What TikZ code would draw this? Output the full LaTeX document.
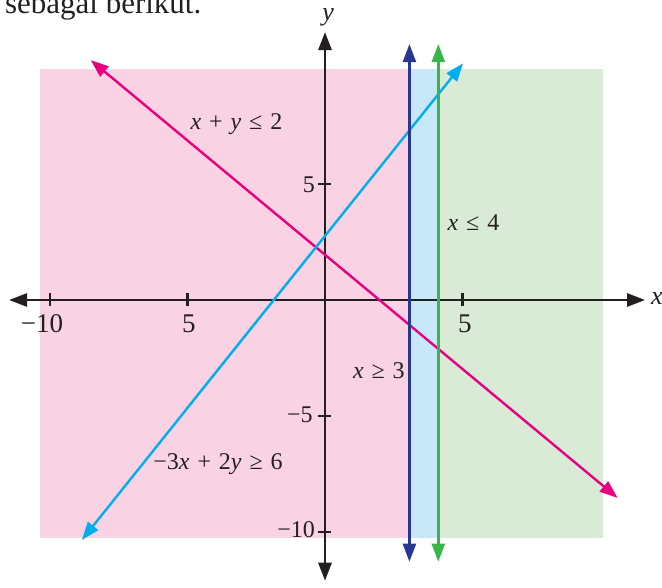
\documentclass[tikz,border=0pt]{standalone}
\usepackage{fontspec}
\setmainfont{Liberation Serif}
\usetikzlibrary{arrows.meta}
\definecolor{regpink}{RGB}{249,211,228}
\definecolor{regblue}{RGB}{199,232,248}
\definecolor{reggreen}{RGB}{217,234,214}
\definecolor{linemag}{RGB}{232,0,128}
\definecolor{linecyan}{RGB}{0,174,239}
\definecolor{linenavy}{RGB}{40,56,146}
\definecolor{linegreen}{RGB}{57,181,74}
\definecolor{axisblack}{RGB}{35,31,32}
\tikzstyle{axis} = [line width=2.8pt, axisblack, {Triangle[length=18pt,width=13pt]}-{Triangle[length=18pt,width=13pt]}]
\tikzstyle{bound} = [line width=2.4pt, {Triangle[length=18pt,width=13pt]}-{Triangle[length=18pt,width=13pt]}]
\tikzstyle{tick} = [line width=2.4pt, axisblack]
\tikzstyle{xlab} = [font=\fontsize{27}{30}\selectfont, inner sep=0pt, text=axisblack]
\tikzstyle{ylab} = [font=\fontsize{24}{28}\selectfont, inner sep=0pt, anchor=east, text=axisblack]
\tikzstyle{ineq} = [font=\fontsize{24}{28}\selectfont, inner sep=0pt, text=axisblack]
\newcommand{\ineqgap}{\hspace{0.33em}}

\begin{document}
\begin{tikzpicture}[x=27.5pt, y=23.2pt]
\useasboundingbox (-11.818,-12.371) rectangle (12.2545,12.931);
\clip (-11.818,-12.371) rectangle (12.2545,12.931);

% regions
\fill[regpink] (-10.36,-10.26) rectangle (3.07,9.96);
\fill[regblue] (3.07,-10.26) rectangle (4.12,9.96);
\fill[reggreen] (4.12,-10.26) rectangle (10.11,9.96);

\node (intro) [anchor=base west, inner sep=0pt, font=\fontsize{31}{36}\selectfont, text=axisblack] at (-11.64,12.37) {sebagai berikut.};

% axes
\coordinate (xl) at (-11.49,0);
\coordinate (xr) at (11.64,0);
\coordinate (yb) at (0,-12.1);
\coordinate (yt) at (0,11.55);
\draw[axis] (xl) -- (xr);
\draw[axis] (yb) -- (yt);

\foreach \t in {-10,-5,5} {
  \draw[tick] (\t,0) ++(0,-6.5pt) -- ++(0,13pt);
  \draw[tick] (0,\t) ++(-6.5pt,0) -- ++(13pt,0);
}

\node (xm10) [xlab] at (-10.29,-1.03) {−10};
\node (xm5) [xlab] at (-4.95,-1.03) {5};
\node (xp5) [xlab] at (5.09,-1.03) {5};
\node (yp5) [ylab] at (-0.36,4.96) {5};
\node (ym5) [ylab] at (-0.44,-4.96) {−5};
\node (ym10) [ylab] at (-0.36,-9.91) {−10};
\node (xname) [xlab, anchor=west, font=\itshape\fontsize{26}{30}\selectfont] at (11.85,0.05) {x};
\node (yname) [xlab, font=\itshape\fontsize{26}{30}\selectfont] at (0.11,12.2) {y};

% boundary lines
\coordinate (magA) at (-8.52,10.34);
\coordinate (magB) at (10.64,-8.53);
\coordinate (cyA) at (-8.84,-10.34);
\coordinate (cyB) at (5.02,10.2);
\coordinate (navA) at (3.07,-11.28);
\coordinate (navB) at (3.07,11.03);
\coordinate (grnA) at (4.12,-11.28);
\coordinate (grnB) at (4.12,11.03);
\draw[bound, linemag] (magA) -- (magB);
\draw[bound, linecyan] (cyA) -- (cyB);
\draw[bound, linenavy] (navA) -- (navB);
\draw[bound, linegreen] (grnA) -- (grnB);

\node (eqsum) [ineq] at (-3.22,7.59) {\textit{x}\ineqgap+\ineqgap\textit{y}\ineqgap≤\ineqgap2};
\node (eqfour) [ineq] at (5.4,3.34) {\textit{x}\ineqgap≤\ineqgap4};
\node (eqthree) [ineq] at (1.96,-3.06) {\textit{x}\ineqgap≥\ineqgap3};
\node (eqcyan) [ineq] at (-3.89,-7.07) {−3\textit{x}\ineqgap+\ineqgap2\textit{y}\ineqgap≥\ineqgap6};

\end{tikzpicture}
\end{document}
